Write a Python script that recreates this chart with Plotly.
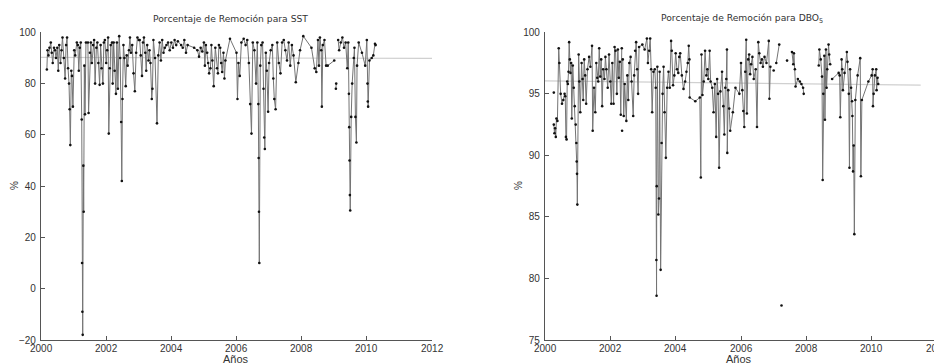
import plotly.graph_objects as go

# Page offset: the browser body adds an 8px margin around the figure
OFF = 8
W, H = 942 - OFF, 363 - OFF

# ---------------- SST removal (%) ----------------
sst_year = [
    2000.18, 2000.20, 2000.23, 2000.26, 2000.30, 2000.33, 2000.36, 2000.40, 2000.43, 2000.46, 2000.50,
    2000.53, 2000.56, 2000.60, 2000.63, 2000.66, 2000.70, 2000.74, 2000.77, 2000.80, 2000.83, 2000.86,
    2000.88, 2000.90, 2000.93, 2000.95, 2000.98, 2001.02, 2001.05, 2001.10, 2001.13, 2001.16, 2001.19,
    2001.22, 2001.25, 2001.26, 2001.27, 2001.28, 2001.30, 2001.31, 2001.33, 2001.35, 2001.38, 2001.44,
    2001.46, 2001.50, 2001.53, 2001.56, 2001.60, 2001.63, 2001.66, 2001.70, 2001.73, 2001.76, 2001.80,
    2001.83, 2001.86, 2001.90, 2001.93, 2001.96, 2002.00, 2002.03, 2002.06, 2002.08, 2002.11, 2002.14,
    2002.18, 2002.20, 2002.23, 2002.26, 2002.30, 2002.33, 2002.36, 2002.40, 2002.43, 2002.46, 2002.48,
    2002.50, 2002.53, 2002.56, 2002.60, 2002.63, 2002.66, 2002.70, 2002.73, 2002.76, 2002.80, 2002.84,
    2002.88, 2002.92, 2002.96, 2003.00, 2003.03, 2003.06, 2003.10, 2003.13, 2003.16, 2003.20, 2003.23,
    2003.26, 2003.30, 2003.33, 2003.36, 2003.40, 2003.42, 2003.45, 2003.50, 2003.56, 2003.60, 2003.64,
    2003.68, 2003.72, 2003.76, 2003.80, 2003.85, 2003.90, 2003.95, 2004.00, 2004.05, 2004.10, 2004.15,
    2004.20, 2004.30, 2004.35, 2004.40, 2004.45, 2004.50, 2004.70, 2004.80, 2004.85, 2004.90, 2004.95,
    2005.00, 2005.03, 2005.06, 2005.10, 2005.13, 2005.16, 2005.20, 2005.23, 2005.26, 2005.30, 2005.35,
    2005.40, 2005.43, 2005.46, 2005.50, 2005.53, 2005.56, 2005.60, 2005.63, 2005.66, 2005.80, 2006.00,
    2006.03, 2006.06, 2006.10, 2006.15, 2006.22, 2006.28, 2006.33, 2006.38, 2006.42, 2006.46, 2006.50,
    2006.55, 2006.60, 2006.64, 2006.67, 2006.68, 2006.69, 2006.70, 2006.73, 2006.76, 2006.80, 2006.83,
    2006.85, 2006.87, 2006.90, 2006.93, 2006.97, 2007.00, 2007.05, 2007.10, 2007.13, 2007.16, 2007.20,
    2007.25, 2007.30, 2007.35, 2007.40, 2007.45, 2007.50, 2007.55, 2007.60, 2007.65, 2007.70, 2007.75,
    2007.82, 2007.90, 2007.95, 2008.05, 2008.30, 2008.40, 2008.45, 2008.50, 2008.53, 2008.56, 2008.60,
    2008.62, 2008.65, 2008.70, 2008.75, None, 2008.80, 2009.00, None, 2009.05, 2009.06, None, 2009.12,
    2009.15, 2009.20, 2009.25, 2009.30, 2009.35, 2009.40, 2009.43, 2009.45, 2009.46, 2009.47, 2009.48,
    2009.49, 2009.52, 2009.55, 2009.60, 2009.62, 2009.65, 2009.68, 2009.70, 2009.75, 2009.85, 2009.95,
    2010.00, 2010.02, 2010.03, 2010.04, 2010.08, 2010.15, 2010.20, 2010.25, 2010.27,
]
sst_value = [
    85.5, 93, 91, 94, 96, 92, 88, 94, 93, 90, 94,
    85, 95, 88, 93, 98, 90, 82, 95, 98, 86, 80,
    70, 56, 85, 83, 71, 93, 91, 96, 95, 85, 94,
    96, 66, 10, -9, -18, 48, 30, 87, 68, 96, 96,
    68.5, 92, 96, 88, 95, 97, 80, 94, 96, 88, 79.5,
    95, 86, 80, 96, 97, 88, 93, 98, 60.5, 86, 95,
    96, 80, 96, 85, 76, 96, 78, 98.5, 90, 65, 42,
    74, 95, 90, 79, 91, 87, 93, 98, 92, 95, 84,
    77, 92, 98, 97, 97, 91, 83, 96, 98, 92, 85,
    95, 89, 93, 88, 74, 78, 97, 90, 64.5, 91, 96,
    89, 97, 92, 94, 95, 96, 93, 96, 94, 97, 95,
    96.5, 95, 94, 97, 92, 95, 94, 93, 90.5, 94, 92.5,
    96, 87, 95, 92, 88, 84, 86, 95, 89, 79, 94,
    86, 84, 95, 94, 88, 84.5, 92, 82, 89, 97.5, 92,
    74, 88, 83, 96, 97.5, 95, 97, 88, 72, 60.5, 96,
    93, 80, 96, 72, 51, 30, 10, 87, 95, 96, 78,
    59, 54.5, 92, 85, 69, 88, 93, 95, 82, 74, 70,
    96, 88, 84, 96, 97, 93, 89, 96, 87, 95, 91,
    80.5, 88, 93, 98.5, 94, 86, 84.5, 97, 87, 98, 93,
    71, 95, 97, 87, None, 87, 89, None, 78, 80, None, 97,
    93, 96, 98, 94, 96, 86, 96, 76, 63, 50, 36.5,
    30.5, 67, 80, 90, 94, 67, 57, 87, 96, 92, 87,
    97, 80, 73, 71, 89, 90, 91, 95.5, 95,
]
sst_trend_year = [2000, 2012]
sst_trend_value = [90.2, 89.8]

# ---------------- DBO5 removal (%) ----------------
dbo_year = [
    2000.27, None, 2000.27, 2000.29, 2000.31, 2000.33, 2000.35, 2000.38, 2000.42, 2000.44, 2000.48,
    2000.52, 2000.56, 2000.60, 2000.62, 2000.64, 2000.66, 2000.68, 2000.70, 2000.72, 2000.74, 2000.76,
    2000.78, 2000.80, 2000.82, 2000.85, 2000.88, 2000.91, 2000.94, 2000.96, 2000.97, 2000.98, 2000.99,
    2001.03, 2001.05, 2001.08, 2001.12, 2001.15, 2001.17, 2001.20, 2001.23, 2001.26, 2001.30, 2001.35,
    2001.39, 2001.44, 2001.46, 2001.50, 2001.54, 2001.57, 2001.60, 2001.63, 2001.66, 2001.69, 2001.72,
    2001.75, 2001.78, 2001.82, 2001.85, 2001.88, 2001.92, 2001.96, 2002.00, 2002.03, 2002.06, 2002.10,
    2002.13, 2002.16, 2002.20, 2002.23, 2002.26, 2002.29, 2002.32, 2002.35, None, 2002.36, None,
    2002.38, 2002.41, 2002.44, 2002.49, 2002.52, 2002.55, 2002.58, 2002.62, 2002.65, 2002.70, 2002.73,
    2002.76, 2002.79, 2002.82, 2002.85, 2002.88, 2002.98, 2003.05, 2003.12, 2003.15, 2003.19, 2003.22,
    2003.25, 2003.28, 2003.32, 2003.36, 2003.39, 2003.41, 2003.415, 2003.42, 2003.44, 2003.47, 2003.49,
    2003.51, 2003.54, 2003.57, 2003.60, 2003.63, 2003.66, 2003.70, 2003.74, 2003.78, 2003.82, 2003.86,
    2003.88, 2003.92, 2003.96, 2004.00, 2004.04, 2004.08, 2004.11, 2004.14, 2004.19, 2004.24, 2004.29,
    2004.33, 2004.37, 2004.40, 2004.42, 2004.43, 2004.60, 2004.74, 2004.77, 2004.79, 2004.82, 2004.86,
    2004.90, 2004.94, 2004.97, 2005.00, 2005.04, 2005.07, 2005.12, 2005.16, 2005.20, 2005.24, 2005.27,
    2005.30, 2005.33, 2005.37, 2005.42, 2005.46, 2005.49, 2005.52, 2005.55, 2005.57, 2005.58, 2005.61,
    2005.64, 2005.67, 2005.75, 2005.83, 2005.95, 2006.00, 2006.04, 2006.07, 2006.10, 2006.13, 2006.16,
    2006.18, 2006.22, 2006.25, 2006.28, 2006.31, 2006.35, 2006.39, 2006.45, 2006.49, 2006.53, 2006.56,
    2006.60, 2006.64, 2006.67, 2006.72, 2006.78, 2006.85, 2006.87, 2006.90, None, 2007.00, None,
    2007.08, 2007.17, None, 2007.24, None, 2007.41, None, 2007.56, 2007.60, 2007.62, 2007.65, 2007.67,
    2007.74, 2007.80, 2007.85, 2007.90, 2007.92, None, 2008.38, 2008.40, 2008.44, 2008.48, 2008.50,
    2008.52, 2008.55, 2008.57, 2008.60, 2008.62, 2008.64, 2008.68, 2008.70, 2008.73, None, 2008.79,
    2008.99, 2009.02, 2009.04, 2009.08, 2009.10, 2009.12, 2009.17, 2009.24, 2009.26, 2009.30, 2009.32,
    2009.34, 2009.37, 2009.40, 2009.41, 2009.43, 2009.45, 2009.47, 2009.50, 2009.57, 2009.65, 2009.67,
    2009.70, 2009.90, 2010.00, 2010.03, 2010.04, 2010.06, 2010.10, 2010.14, 2010.15, 2010.18, 2010.20,
]
dbo_value = [
    95.1, None, 92.5, 91.8, 92.2, 91.5, 93.0, 92.8, 98.7, 97.5, 95.0,
    94.2, 94.5, 95.0, 94.8, 91.5, 91.3, 96.0, 95.8, 96.8, 99.2, 97.8,
    96.7, 97.5, 93.0, 97.3, 95.5, 94.0, 92.5, 91.0, 89.5, 88.5, 86.0,
    98.2, 96.0, 93.5, 97.5, 96.2, 94.5, 97.8, 96.5, 94.2, 97.0, 98.0,
    97.2, 98.9, 92.0, 95.5, 93.5, 97.5, 96.3, 96.0, 98.7, 96.4, 97.8,
    94.0, 97.0, 96.2, 98.0, 97.0, 95.5, 98.2, 96.0, 94.2, 97.5, 94.2,
    98.8, 98.5, 95.0, 98.6, 96.3, 97.6, 93.3, 98.7, None, 92.0, None,
    97.8, 93.2, 95.8, 92.8, 96.5, 94.5, 97.5, 98.0, 96.0, 93.2, 96.5,
    98.5, 99.2, 97.0, 95.0, 98.8, 99.0, 98.6, 99.5, 97.5, 98.5, 99.5,
    97.0, 93.5, 96.8, 97.0, 95.5, 81.5, 78.6, 87.5, 97.2, 85.2, 86.5,
    96.8, 80.7, 91.0, 95.0, 97.2, 93.5, 89.8, 95.5, 96.8, 95.5, 99.3,
    98.5, 95.7, 96.5, 98.3, 97.0, 96.7, 98.0, 98.3, 96.5, 95.4, 96.0,
    96.8, 97.5, 98.9, 97.8, 94.7, 94.4, 94.7, 88.2, 98.2, 94.9, 96.0,
    98.5, 96.5, 97.0, 96.2, 98.5, 96.0, 95.5, 93.5, 95.8, 91.5, 96.2,
    95.0, 89.0, 95.2, 96.8, 94.0, 91.7, 95.5, 96.2, 98.6, 90.2, 95.3,
    93.8, 92.0, 93.5, 95.5, 95.0, 97.5, 95.3, 93.6, 92.3, 96.8, 99.4,
    93.4, 97.8, 98.2, 96.6, 97.4, 98.0, 96.2, 97.0, 92.3, 99.2, 98.3,
    97.5, 97.8, 97.2, 98.0, 97.5, 99.3, 94.6, 97.2, None, 96.9, None,
    97.5, 99.0, None, 77.8, None, 97.7, None, 98.4, 97.4, 98.3, 97.0, 95.6,
    96.2, 96.0, 95.8, 95.5, 95.0, None, 97.3, 98.6, 97.8, 96.4, 88.0,
    95.0, 98.1, 92.9, 98.6, 95.5, 97.0, 99.0, 98.2, 97.4, None, 96.2,
    96.7, 96.5, 93.1, 97.8, 97.0, 95.3, 96.7, 98.4, 97.6, 95.0, 89.0,
    97.0, 95.5, 94.4, 93.2, 88.7, 90.8, 83.6, 94.5, 96.5, 97.9, 88.3,
    94.5, 96.0, 96.5, 97.0, 94.0, 95.0, 96.5, 97.0, 95.3, 96.3, 95.8,
]
dbo_trend_year = [2000, 2011.5]
dbo_trend_value = [96.05, 95.7]

x_ticks = [2000, 2002, 2004, 2006, 2008, 2010, 2012]
x_tick_labels = ["2000", "2002", "2004", "2006", "2008", "2010", "2012"]
sst_ticks = [-20, 0, 20, 40, 60, 80, 100]
dbo_ticks = [75, 80, 85, 90, 95, 100]
titles = ["Porcentaje de Remoción para SST", "Porcentaje de Remoción para DBO<sub>5</sub>"]
x_title = "Años"
y_title = "%"

# ---------------- layout geometry (screen pixels) ----------------
def px_x(p):
    return (p - OFF) / W

def px_y(p):
    return 1 - (p - OFF) / H

L1, R1 = 41, 432
L2, R2 = 545, 937
TOP, BOT = 32.3, 340

fig = go.Figure()

line_col = "#747474"
for i, (xs, ys, tx, ty) in enumerate([
    (sst_year, sst_value, sst_trend_year, sst_trend_value),
    (dbo_year, dbo_value, dbo_trend_year, dbo_trend_value),
]):
    xa = "x" if i == 0 else "x2"
    ya = "y" if i == 0 else "y2"
    fig.add_trace(go.Scatter(x=tx, y=ty, mode="lines", xaxis=xa, yaxis=ya,
                             line=dict(color="#d0d0d0", width=1.2), hoverinfo="skip",
                             showlegend=False))
    fig.add_trace(go.Scatter(x=xs, y=ys, mode="lines+markers", xaxis=xa, yaxis=ya,
                             line=dict(color=line_col, width=1),
                             marker=dict(color="#111111", size=2.6),
                             connectgaps=False, showlegend=False))

tick_font = dict(family="Liberation Sans, Arial, sans-serif", size=10, color="#333333")
axis_common = dict(showgrid=False, zeroline=False, showline=True, linecolor="#555555",
                   linewidth=1.2, ticks="inside", ticklen=4, tickcolor="#555555",
                   automargin=False, tickfont=tick_font)

fig.update_layout(
    width=W, height=H,
    margin=dict(l=0, r=0, t=0, b=0),
    paper_bgcolor="white", plot_bgcolor="white",
    xaxis=dict(domain=[px_x(L1), px_x(R1)], range=[2000, 2012], tickvals=x_ticks,
               showticklabels=False, anchor="y", **axis_common),
    yaxis=dict(domain=[px_y(BOT), px_y(TOP)], range=[-20, 100], tickvals=sst_ticks,
               anchor="x", ticklabelstandoff=2, **axis_common),
    xaxis2=dict(domain=[px_x(L2), min(1.0, px_x(R2))], range=[2000, 2012], tickvals=x_ticks,
                showticklabels=False, anchor="y2", **axis_common),
    yaxis2=dict(domain=[px_y(BOT), px_y(TOP)], range=[75, 100], tickvals=dbo_ticks,
                anchor="x2", ticklabelstandoff=2, **axis_common),
)

# x tick labels (placed just under the axis, as in the reference)
for xref in ["x", "x2"]:
    for v, t in zip(x_ticks, x_tick_labels):
        fig.add_annotation(x=v, y=px_y(348), xref=xref, yref="paper", text=t,
                           showarrow=False, font=tick_font, xanchor="center", yanchor="middle")

font_lbl = dict(family="Liberation Sans, Arial, sans-serif", size=11, color="#333333")
font_title = dict(family="DejaVu Sans, sans-serif", size=9.2, color="#333333")

for cx, title in [(230, titles[0]), (742, titles[1])]:
    fig.add_annotation(x=px_x(cx), y=px_y(19), xref="paper", yref="paper", text=title,
                       showarrow=False, font=font_title, xanchor="center", yanchor="middle")
for cx in [236, 739]:
    fig.add_annotation(x=px_x(cx), y=px_y(359), xref="paper", yref="paper", text=x_title,
                       showarrow=False, font=font_lbl, xanchor="center", yanchor="middle")
for cx in [14, 518]:
    fig.add_annotation(x=px_x(cx), y=px_y(186), xref="paper", yref="paper", text=y_title,
                       showarrow=False, font=dict(family="Liberation Sans, Arial, sans-serif", size=10, color="#333333"),
                       textangle=-90, xanchor="center", yanchor="middle")

fig.write_html("out.html")
